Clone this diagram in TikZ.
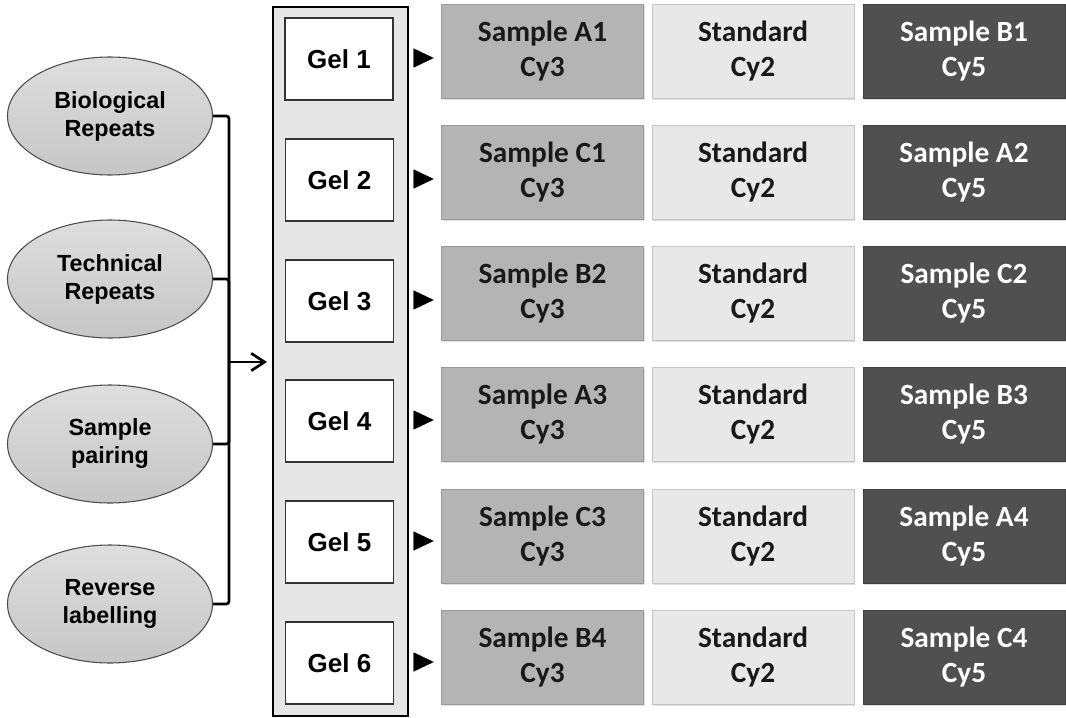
\documentclass[tikz,border=0pt]{standalone}
\usepackage{fontspec}
\newfontfamily\arialfont{Liberation Sans}
\newfontfamily\calibfont{Carlito}
\usepackage{tikz}
\usetikzlibrary{arrows.meta, positioning, shapes.geometric, shadows}
\newdimen\pxu \pxu=0.75pt
\definecolor{cythree}{HTML}{B4B4B4}
\definecolor{cytwo}{HTML}{E8E8E8}
\definecolor{cyfive}{HTML}{505050}
\definecolor{ovalfill}{HTML}{D0D0D0}
\definecolor{panelfill}{HTML}{E6E6E6}

\begin{document}
\begin{tikzpicture}[x=0.75pt, y=-0.75pt, semithick]
    \tikzstyle{every node}=[inner sep=0pt, align=center]
    \tikzstyle{factor}=[ellipse, draw=black!70, line width=0.8pt, top color=ovalfill!70, bottom color=ovalfill!95!black, minimum width=205\pxu, minimum height=118\pxu, font=\arialfont\bfseries\fontsize{17.5}{21}\selectfont]
    \tikzstyle{panel}=[rectangle, draw=black, line width=1pt, fill=panelfill, minimum width=135\pxu, minimum height=709\pxu]
    \tikzstyle{gel}=[rectangle, draw=black!80, line width=0.8pt, fill=white, minimum width=108\pxu, minimum height=82\pxu, font=\arialfont\bfseries\fontsize{19.5}{23}\selectfont]
    \tikzstyle{dye}=[rectangle, minimum width=202\pxu, minimum height=94\pxu, font=\calibfont\bfseries\fontsize{22}{26}\selectfont, drop shadow={opacity=0.25, shadow xshift=1pt, shadow yshift=-1.2pt}]
    \tikzstyle{cy3}=[dye, fill=cythree, draw=cythree!85!black, text=black!90]
    \tikzstyle{cy2}=[dye, fill=cytwo, draw=cytwo!85!black, text=black!90]
    \tikzstyle{cy5}=[dye, fill=cyfive, draw=cyfive!80!black, text=white]
    \tikzstyle{feed}=[line width=2pt, rounded corners=2pt]
    \tikzstyle{tip}=[-{Triangle[length=15pt, width=14.25pt]}, line width=0.1pt]

    \useasboundingbox (0,0) rectangle (1066,717);

    % design factors
    \node[factor] (bio)  at (110,116) {Biological\\Repeats};
    \node[factor] (tech) at (110,279) {Technical\\Repeats};
    \node[factor] (pair) at (110,444) {Sample\\pairing};
    \node[factor] (rev)  at (110,604) {Reverse\\labelling};

    % gels
    \node[panel] (panel) at (340.5,361.5) {};
        \node[gel] (g1) at (339,59)  {Gel 1};
        \node[gel] (g2) at (339.5,180) {Gel 2};
        \node[gel] (g3) at (339.5,301) {Gel 3};
        \node[gel] (g4) at (339.5,421) {Gel 4};
        \node[gel] (g5) at (339.5,542) {Gel 5};
        \node[gel] (g6) at (339.5,663) {Gel 6};

    % samples per gel
    \node[cy3] (s11) at (542.5,51)  {Sample A1\\Cy3};
    \node[cy2] (s12) at (753,51)    {Standard\\Cy2};
    \node[cy5] (s13) at (964,51)    {Sample B1\\Cy5};

    \node[cy3] (s21) at (542.5,172) {Sample C1\\Cy3};
    \node[cy2] (s22) at (753,172)   {Standard\\Cy2};
    \node[cy5] (s23) at (964,172)   {Sample A2\\Cy5};

    \node[cy3] (s31) at (542.5,293) {Sample B2\\Cy3};
    \node[cy2] (s32) at (753,293)   {Standard\\Cy2};
    \node[cy5] (s33) at (964,293)   {Sample C2\\Cy5};

    \node[cy3] (s41) at (542.5,414) {Sample A3\\Cy3};
    \node[cy2] (s42) at (753,414)   {Standard\\Cy2};
    \node[cy5] (s43) at (964,414)   {Sample B3\\Cy5};

    \node[cy3] (s51) at (542.5,536) {Sample C3\\Cy3};
    \node[cy2] (s52) at (753,536)   {Standard\\Cy2};
    \node[cy5] (s53) at (964,536)   {Sample A4\\Cy5};

    \node[cy3] (s61) at (542.5,657) {Sample B4\\Cy3};
    \node[cy2] (s62) at (753,657)   {Standard\\Cy2};
    \node[cy5] (s63) at (964,657)   {Sample C4\\Cy5};

    % bracket into the gels
    \coordinate (jn) at (229,362);
    \draw[feed] (bio.east)  -| (jn);
    \draw[feed] (tech.east) -| (jn);
    \draw[feed] (pair.east) -| (jn);
    \draw[feed] (rev.east)  -| (jn);
    \draw[line width=2pt, -{Straight Barb[length=10pt, width=13pt]}, shorten >=4pt] (jn) -- (panel.west |- jn);

    % gel to sample row
    \draw[tip] (panel.east |- g1) ++(5,-1) -- ++(20,0);
    \draw[tip] (panel.east |- g2) ++(5,-1) -- ++(20,0);
    \draw[tip] (panel.east |- g3) ++(5,-1) -- ++(20,0);
    \draw[tip] (panel.east |- g4) ++(5,-1) -- ++(20,0);
    \draw[tip] (panel.east |- g5) ++(5,-1) -- ++(20,0);
    \draw[tip] (panel.east |- g6) ++(5,-1) -- ++(20,0);

\end{tikzpicture}
\end{document}
